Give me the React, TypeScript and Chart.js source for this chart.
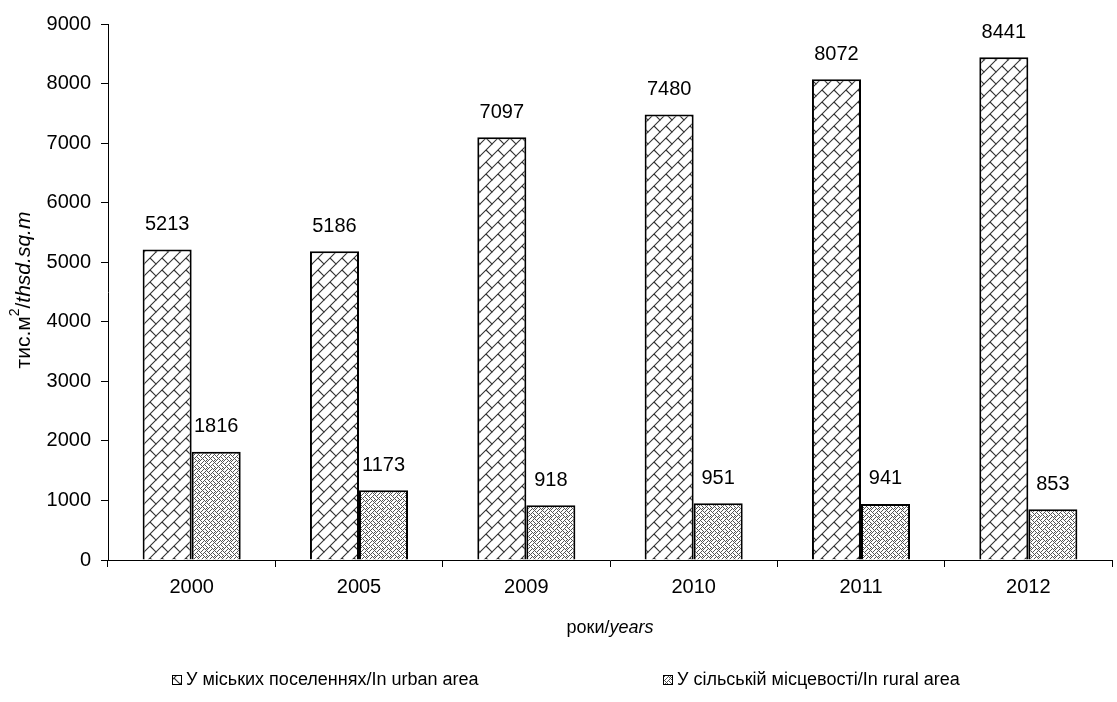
import React, { useEffect, useRef } from "react";
import { Chart, registerables } from "chart.js";

Chart.register(...registerables);

const categories = ["2000", "2005", "2009", "2010", "2011", "2012"];
const urbanValues = [5213, 5186, 7097, 7480, 8072, 8441];
const ruralValues = [1816, 1173, 918, 951, 941, 853];
const seriesLabels = ["У міських поселеннях/In urban area", "У сільській місцевості/In rural area"];
const yMin = 0;
const yMax = 9000;
const yStep = 1000;

const FONT = "'Liberation Sans', Arial, sans-serif";

function makeUrbanPattern(ctx: CanvasRenderingContext2D) {
  const s = 12;
  const c = document.createElement("canvas");
  c.width = s;
  c.height = s;
  const g = c.getContext("2d")!;
  g.fillStyle = "#fff";
  g.fillRect(0, 0, s, s);
  g.strokeStyle = "#333";
  g.lineWidth = 1.1;
  g.beginPath();
  for (let k = -1; k <= 1; k++) {
    g.moveTo(-2 + k * s, s + 2);
    g.lineTo(s + 2 + k * s, -2);
  }
  g.moveTo(6, 6);
  g.lineTo(12.5, 12.5);
  g.moveTo(-0.5, -0.5);
  g.lineTo(0.5, 0.5);
  g.stroke();
  return ctx.createPattern(c, "repeat")!;
}

function makeRuralPattern(ctx: CanvasRenderingContext2D) {
  const bits = [
    "10001000",
    "01010100",
    "00100010",
    "01010001",
    "10001010",
    "00010101",
    "00100010",
    "01000101",
  ];
  const c = document.createElement("canvas");
  c.width = 8;
  c.height = 8;
  const g = c.getContext("2d")!;
  g.fillStyle = "#fff";
  g.fillRect(0, 0, 8, 8);
  g.fillStyle = "#555";
  for (let y = 0; y < 8; y++)
    for (let x = 0; x < 8; x++) if (bits[y][x] === "1") g.fillRect(x, y, 1, 1);
  return ctx.createPattern(c, "repeat")!;
}

type Run = { t: string; it?: boolean; sup?: boolean };

function drawRuns(ctx: CanvasRenderingContext2D, runs: Run[], cx: number, cy: number, size: number) {
  const fontOf = (r: Run) => `${r.it ? "italic " : ""}${r.sup ? Math.round(size * 0.65) : size}px ${FONT}`;
  let total = 0;
  for (const r of runs) {
    ctx.font = fontOf(r);
    total += ctx.measureText(r.t).width;
  }
  let x = cx - total / 2;
  ctx.textBaseline = "middle";
  ctx.textAlign = "left";
  for (const r of runs) {
    ctx.font = fontOf(r);
    ctx.fillText(r.t, x, r.sup ? cy - size * 0.4 : cy);
    x += ctx.measureText(r.t).width;
  }
}

export default function App() {
  const ref = useRef<HTMLCanvasElement>(null);
  useEffect(() => {
    const canvas = ref.current!;
    const ctx = canvas.getContext("2d")!;
    const urbanPat = makeUrbanPattern(ctx);
    const ruralPat = makeRuralPattern(ctx);
    const fills = [urbanPat, ruralPat];

    const extras = {
      id: "extras",
      afterDatasetsDraw(chart: any) {
        const c = chart.ctx as CanvasRenderingContext2D;
        c.save();
        c.fillStyle = "#000";
        c.font = `20px ${FONT}`;
        c.textAlign = "center";
        c.textBaseline = "middle";
        chart.data.datasets.forEach((ds: any, di: number) => {
          const meta = chart.getDatasetMeta(di);
          meta.data.forEach((bar: any, i: number) => {
            c.fillText(String(ds.data[i]), bar.x, bar.y - 25);
          });
        });
        const area = chart.chartArea;
        // x title
        drawRuns(c, [{ t: "роки/" }, { t: "years", it: true }], (area.left + area.right) / 2, 628, 18);
        // y title
        c.save();
        c.translate(24, 290);
        c.rotate(-Math.PI / 2);
        drawRuns(c, [{ t: "тис.м" }, { t: "2", sup: true }, { t: "/" }, { t: "thsd.sq.m", it: true }], 0, 0, 21);
        c.restore();
        // legend
        const items = [
          { x: 172, label: seriesLabels[0], fill: fills[0] },
          { x: 663, label: seriesLabels[1], fill: fills[1] },
        ];
        const ly = 680;
        for (const it of items) {
          c.fillStyle = it.fill;
          c.fillRect(it.x, ly - 5, 10, 10);
          c.strokeStyle = "#000";
          c.lineWidth = 1;
          c.strokeRect(it.x + 0.5, ly - 4.5, 9, 9);
          c.fillStyle = "#000";
          c.font = `18px ${FONT}`;
          c.textAlign = "left";
          c.textBaseline = "middle";
          c.fillText(it.label, it.x + 14, ly);
        }
        c.restore();
      },
    };

    const chart = new Chart(canvas, {
      type: "bar",
      data: {
        labels: categories,
        datasets: [
          { label: seriesLabels[0], data: urbanValues, backgroundColor: urbanPat as any, borderColor: "#000", borderWidth: 2 },
          { label: seriesLabels[1], data: ruralValues, backgroundColor: ruralPat as any, borderColor: "#000", borderWidth: 2 },
        ],
      },
      options: {
        animation: false,
        responsive: false,
        maintainAspectRatio: false,
        layout: { padding: { top: 24, right: 5, left: 0, bottom: 0 } },
        datasets: { bar: { barPercentage: 1, categoryPercentage: 0.586 } },
        plugins: { legend: { display: false }, tooltip: { enabled: false }, title: { display: false } },
        scales: {
          x: {
            grid: { offset: true, drawOnChartArea: false, color: "#000", tickLength: 7 },
            border: { color: "#000", width: 1 },
            ticks: { color: "#000", font: { family: FONT, size: 20 }, padding: 8, maxRotation: 0 },
            afterFit(scale: any) {
              scale.height = 142;
            },
          },
          y: {
            min: yMin,
            max: yMax,
            grid: { drawOnChartArea: false, color: "#000", tickLength: 7 },
            border: { color: "#000", width: 1 },
            ticks: {
              stepSize: yStep,
              color: "#000",
              font: { family: FONT, size: 20 },
              padding: 10,
              callback: (v: any) => String(v),
            },
            afterFit(scale: any) {
              scale.width = 108;
            },
          },
        },
      },
      plugins: [extras],
    });
    return () => chart.destroy();
  }, []);
  return (
    <div style={{ position: "fixed", left: 0, top: 0, width: 1117, height: 702, background: "#fff" }}>
      <canvas ref={ref} width={1117} height={702} style={{ display: "block" }} />
    </div>
  );
}
